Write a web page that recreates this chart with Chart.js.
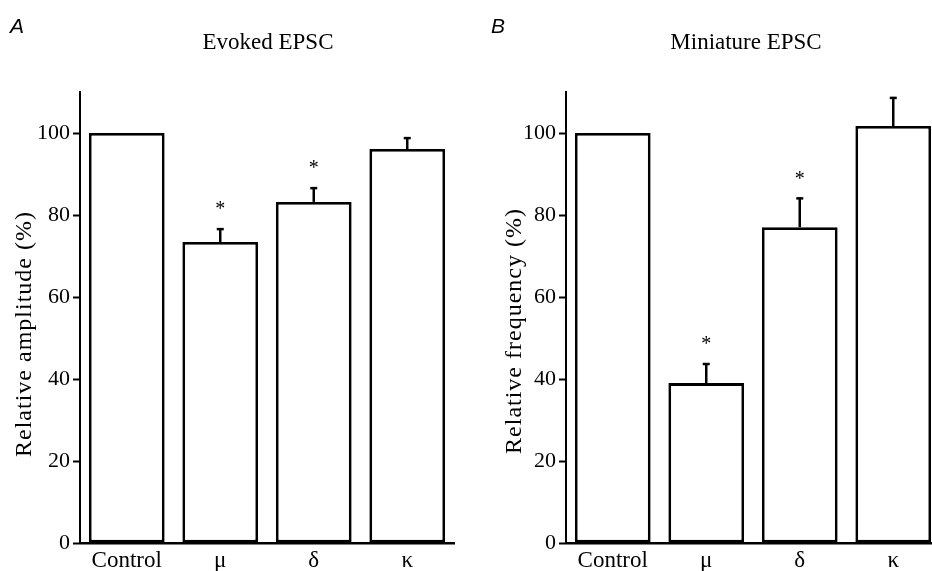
<!DOCTYPE html>
<html>
<head>
<meta charset="utf-8">
<script src="https://cdn.jsdelivr.net/npm/chart.js@4.4.1/dist/chart.umd.min.js"></script>
<style>
    html, body { margin: 0; padding: 0; background: #fff; overflow: hidden; }
    body { width: 932px; height: 571px; position: relative; }
    .panel { position: absolute; top: 0; height: 571px; }
    #panel-a { left: 0; width: 466px; }
    #panel-b { left: 466px; width: 480px; }
</style>
</head>
<body>
<div class="panel" id="panel-a"><canvas id="chart-a"></canvas></div>
<div class="panel" id="panel-b"><canvas id="chart-b"></canvas></div>
<script>
// Categories and values
const categories = ['Control', 'μ', 'δ', 'κ'];
const yTickValues = [0, 20, 40, 60, 80, 100];

const evokedMeans = [100, 73.4, 83.2, 96.1];
const evokedErrors = [0, 3.4, 3.6, 2.9];
const evokedSignificant = [false, true, true, false];

const miniMeans = [100, 39.0, 77.0, 101.7];
const miniErrors = [0, 4.9, 7.3, 7.1];
const miniSignificant = [false, true, true, false];

const SERIF = "'Liberation Serif', 'DejaVu Serif', serif";

/**
 * Draws the panel letter, title, y title, error bars and asterisks
 */
const annotatePlugin = {
    id: 'annotate',
    afterDatasetsDraw(chart, args, opts) {
        const { ctx, scales } = chart;
        const meta = chart.getDatasetMeta(0);
        const y = scales.y;

        ctx.save();
        ctx.strokeStyle = '#000';
        ctx.fillStyle = '#000';

        // error bars (upper only) and significance marks
        meta.data.forEach((bar, i) => {
            const err = opts.errors[i];
            const top = y.getPixelForValue(opts.means[i] + err);
            if (err > 0) {
                ctx.lineWidth = 2.5;
                ctx.beginPath();
                ctx.moveTo(bar.x, bar.y);
                ctx.lineTo(bar.x, top);
                ctx.stroke();
                ctx.beginPath();
                ctx.moveTo(bar.x - 3.5, top + 1);
                ctx.lineTo(bar.x + 3.5, top + 1);
                ctx.stroke();
            }
            if (opts.significant[i]) {
                ctx.font = '20px ' + SERIF;
                ctx.textAlign = 'center';
                ctx.textBaseline = 'middle';
                ctx.fillText('*', bar.x, top - 18);
            }
        });

        // panel letter
        ctx.font = 'italic 21px "Liberation Sans", Arial, sans-serif';
        ctx.textAlign = 'left';
        ctx.textBaseline = 'alphabetic';
        ctx.fillText(opts.letter, opts.letterX, 33);

        // panel title
        ctx.font = '23px ' + SERIF;
        ctx.textAlign = 'center';
        ctx.textBaseline = 'middle';
        ctx.fillText(opts.title, opts.titleX, 43);

        // y axis title
        ctx.translate(opts.yTitleX, opts.yTitleY);
        ctx.rotate(-Math.PI / 2);
        ctx.font = '24px ' + SERIF;
        if ('letterSpacing' in ctx) ctx.letterSpacing = '1px';
        ctx.fillText(opts.yTitle, 0, 0);
        ctx.restore();
    }
};

function makePanel(canvasId, cfg) {
    const ctx = document.getElementById(canvasId);
    return new Chart(ctx, {
        type: 'bar',
        data: {
            labels: categories,
            datasets: [{
                data: cfg.means,
                backgroundColor: '#fff',
                borderColor: '#000',
                borderWidth: 2.8,
                borderSkipped: false,
                barPercentage: 0.81,
                categoryPercentage: 1.0,
            }]
        },
        options: {
            responsive: true,
            maintainAspectRatio: false,
            animation: false,
            layout: {
                padding: { top: 92, right: cfg.padRight, bottom: 0, left: 0 }
            },
            plugins: {
                legend: { display: false },
                tooltip: { enabled: false },
                annotate: cfg.annotate
            },
            scales: {
                x: {
                    grid: { display: false, drawTicks: false },
                    border: { color: '#000', width: 2.5 },
                    ticks: {
                        color: '#000',
                        padding: 4,
                        font: { family: SERIF, size: 23 },
                        maxRotation: 0
                    },
                    afterFit: s => { s.height = 28; }
                },
                y: {
                    min: 0,
                    max: 110,
                    grid: {
                        drawOnChartArea: false,
                        drawTicks: true,
                        tickLength: 7,
                        tickColor: '#000',
                        tickWidth: 2
                    },
                    border: { color: '#000', width: 2 },
                    ticks: {
                        color: '#000',
                        padding: 3,
                        font: { family: SERIF, size: 22 }
                    },
                    afterBuildTicks: s => { s.ticks = yTickValues.map(v => ({ value: v })); },
                    afterFit: s => { s.width = cfg.yAxisWidth; }
                }
            }
        },
        plugins: [annotatePlugin]
    });
}

makePanel('chart-a', {
    means: evokedMeans,
    yAxisWidth: 80,
    padRight: 12,
    annotate: {
        means: evokedMeans,
        errors: evokedErrors,
        significant: evokedSignificant,
        letter: 'A',
        letterX: 10,
        title: 'Evoked EPSC',
        titleX: 268,
        yTitle: 'Relative amplitude (%)',
        yTitleX: 25,
        yTitleY: 334
    }
});

makePanel('chart-b', {
    means: miniMeans,
    yAxisWidth: 100,
    padRight: 6,
    annotate: {
        means: miniMeans,
        errors: miniErrors,
        significant: miniSignificant,
        letter: 'B',
        letterX: 25,
        title: 'Miniature EPSC',
        titleX: 280,
        yTitle: 'Relative frequency (%)',
        yTitleX: 49,
        yTitleY: 331
    }
});
</script>
</body>
</html>
